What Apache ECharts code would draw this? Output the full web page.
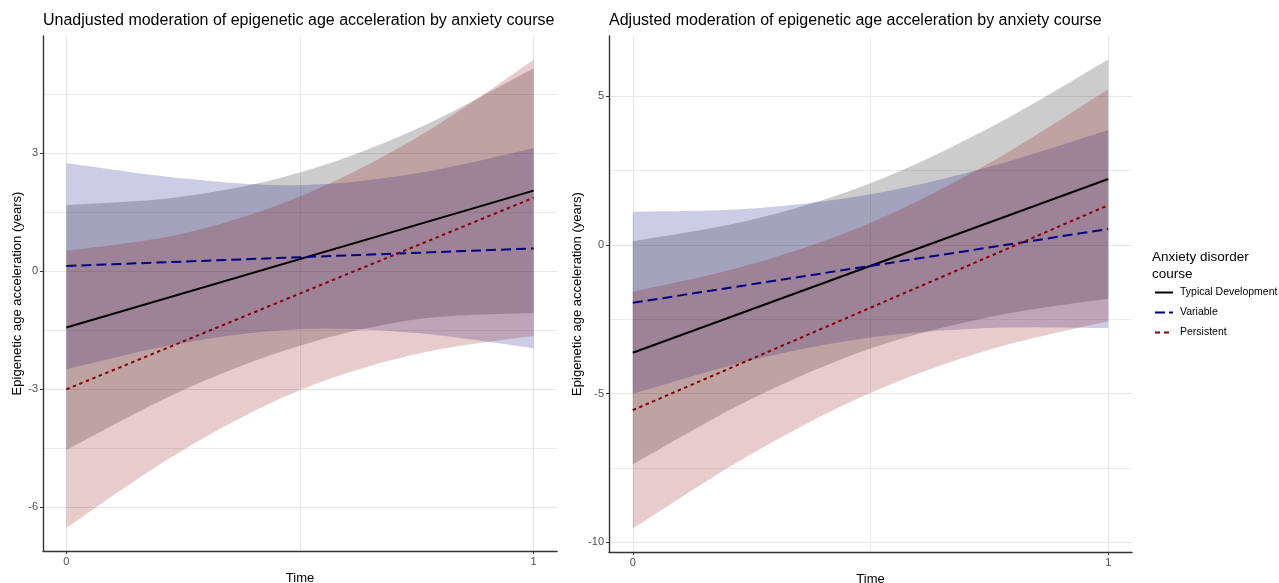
<!DOCTYPE html>
<html><head><meta charset="utf-8">
<script src="https://cdn.jsdelivr.net/npm/echarts@6/dist/echarts.min.js"></script>
<style>html,body{margin:0;padding:0;background:#fff}#c{width:1279px;height:583px}</style>
</head><body><div id="c"></div>
<script>
// ---- data ----
const times = [0, 0.25, 0.5, 0.75, 1];
const lineTimes = [0, 1];
const groupNames = ['Typical Development', 'Variable', 'Persistent'];
const xTicks = [0, 1];
const xMinorGrid = [0.5];

// Unadjusted panel
const uTypicalLine = [-1.43, 2.05];
const uVariableLine = [0.135, 0.58];
const uPersistentLine = [-3.0, 1.87];
const uTypicalLo = [-4.54, -3.02, -1.89, -1.22, -1.06];
const uTypicalHi = [1.68, 1.90, 2.51, 3.62, 5.16];
const uVariableLo = [-2.49, -1.82, -1.47, -1.57, -1.96];
const uVariableHi = [2.75, 2.36, 2.19, 2.49, 3.13];
const uPersistentLo = [-6.52, -4.54, -3.02, -2.10, -1.64];
const uPersistentHi = [0.52, 0.96, 1.90, 3.40, 5.37];
const uYTicks = [-6, -3, 0, 3];
const uYMinorGrid = [-4.5, -1.5, 1.5, 4.5];

// Adjusted panel
const aTypicalLine = [-3.63, 2.21];
const aVariableLine = [-1.95, 0.53];
const aPersistentLine = [-5.56, 1.33];
const aTypicalLo = [-7.38, -5.18, -3.49, -2.43, -1.81];
const aTypicalHi = [0.12, 0.84, 2.07, 3.93, 6.23];
const aVariableLo = [-5.01, -3.88, -3.12, -2.80, -2.80];
const aVariableHi = [1.11, 1.22, 1.70, 2.62, 3.86];
const aPersistentLo = [-9.54, -7.03, -4.98, -3.53, -2.57];
const aPersistentHi = [-1.58, -0.65, 0.74, 2.75, 5.23];
const aYTicks = [-10, -5, 0, 5];
const aYMinorGrid = [-7.5, -2.5, 2.5];

// ---- styles ----
const FONT = "'Liberation Sans', Arial, Helvetica, sans-serif";
const lineColors = ['#000000', '#000080', '#8B0000'];
const bandColors = ['rgba(0,0,0,0.2)', 'rgba(0,0,128,0.2)', 'rgba(139,0,0,0.2)'];
const dashTypes = ['solid', [10, 5], [3.5, 3.5]];
const legendIcons = [
  'path://M0,0h18v2h-18z',
  'path://M0,0h10v2h-10zM14,0h4v2h-4z',
  'path://M0,0h5v2h-5zM9,0h5v2h-5zM18,0h0.01v2h-0.01z'
];

function xAxes(grid) {
  return [{
    type: 'value', gridIndex: grid, min: -0.05, max: 1.05,
    name: 'Time', nameLocation: 'middle', nameGap: 19,
    nameTextStyle: { fontSize: 13, color: '#000', fontFamily: FONT },
    axisLine: { show: true, onZero: false, lineStyle: { color: '#333', width: 1.4 } },
    axisTick: { show: true, customValues: xTicks, length: 3, lineStyle: { color: '#333' } },
    axisLabel: { customValues: xTicks, color: '#4d4d4d', fontSize: 11, margin: 5, fontFamily: FONT },
    splitLine: { show: true, lineStyle: { color: '#e6e6e6', width: 1 } }
  }, {
    type: 'value', gridIndex: grid, min: -0.05, max: 1.05,
    axisLine: { show: false }, axisTick: { show: false, customValues: xMinorGrid },
    axisLabel: { show: false, customValues: xMinorGrid },
    splitLine: { show: true, lineStyle: { color: '#ebebeb', width: 1 } }
  }];
}
function yAxes(grid, min, max, ticks, minor, nameGap) {
  return [{
    type: 'value', gridIndex: grid, min: min, max: max,
    name: 'Epigenetic age acceleration (years)', nameLocation: 'middle', nameGap: nameGap,
    nameTextStyle: { fontSize: 13, color: '#000', fontFamily: FONT },
    axisLine: { show: true, onZero: false, lineStyle: { color: '#333', width: 1.4 } },
    axisTick: { show: true, customValues: ticks, length: 3, lineStyle: { color: '#333' } },
    axisLabel: { customValues: ticks, color: '#4d4d4d', fontSize: 11, margin: 5, fontFamily: FONT },
    splitLine: { show: true, lineStyle: { color: '#e6e6e6', width: 1 } }
  }, {
    type: 'value', gridIndex: grid, min: min, max: max,
    axisLine: { show: false }, axisTick: { show: false, customValues: minor },
    axisLabel: { show: false, customValues: minor },
    splitLine: { show: true, lineStyle: { color: '#ebebeb', width: 1 } }
  }];
}

// smooth pixel-space curve through the projected points (Catmull-Rom as cubic Bezier)
function smoothPath(P) {
  const out = [];
  const n = P.length, steps = 16;
  for (let i = 0; i < n - 1; i++) {
    const p0 = P[Math.max(i - 1, 0)], p1 = P[i], p2 = P[i + 1], p3 = P[Math.min(i + 2, n - 1)];
    const c1 = [p1[0] + (p2[0] - p0[0]) / 6, p1[1] + (p2[1] - p0[1]) / 6];
    const c2 = [p2[0] - (p3[0] - p1[0]) / 6, p2[1] - (p3[1] - p1[1]) / 6];
    for (let s = 0; s < steps; s++) {
      const u = s / steps, v = 1 - u;
      const a = v * v * v, b = 3 * v * v * u, c = 3 * v * u * u, d = u * u * u;
      out.push([a * p1[0] + b * c1[0] + c * c2[0] + d * p2[0], a * p1[1] + b * c1[1] + c * c2[1] + d * p2[1]]);
    }
  }
  out.push(P[n - 1]);
  return out;
}

function bandSeries(axisIdx, lo, hi, gi) {
  return {
    type: 'custom', xAxisIndex: axisIdx, yAxisIndex: axisIdx, silent: true, z: 2, clip: true,
    data: times.map((t, i) => [t, lo[i], hi[i]]),
    encode: { x: 0, y: [1, 2] },
    renderItem: function (params, api) {
      if (params.dataIndex !== 0) return null;
      const n = times.length;
      const up = [], dn = [];
      for (let j = 0; j < n; j++) {
        up.push(api.coord([api.value(0, j), api.value(2, j)]));
        dn.push(api.coord([api.value(0, j), api.value(1, j)]));
      }
      const pts = smoothPath(up).concat(smoothPath(dn).reverse());
      return { type: 'polygon', shape: { points: pts }, style: { fill: bandColors[gi] } };
    }
  };
}
function fitSeries(axisIdx, vals, gi) {
  return {
    type: 'line', name: groupNames[gi], xAxisIndex: axisIdx, yAxisIndex: axisIdx,
    symbol: 'none', z: 5, color: lineColors[gi],
    lineStyle: { color: lineColors[gi], width: 2, type: dashTypes[gi] },
    data: lineTimes.map((t, i) => [t, vals[i]])
  };
}

const series = [
  bandSeries(0, uTypicalLo, uTypicalHi, 0),
  bandSeries(0, uVariableLo, uVariableHi, 1),
  bandSeries(0, uPersistentLo, uPersistentHi, 2),
  bandSeries(2, aTypicalLo, aTypicalHi, 0),
  bandSeries(2, aVariableLo, aVariableHi, 1),
  bandSeries(2, aPersistentLo, aPersistentHi, 2),
  fitSeries(0, uTypicalLine, 0), fitSeries(0, uVariableLine, 1), fitSeries(0, uPersistentLine, 2),
  fitSeries(2, aTypicalLine, 0), fitSeries(2, aVariableLine, 1), fitSeries(2, aPersistentLine, 2)
];

const chart = echarts.init(document.getElementById('c'), null, { renderer: 'canvas' });
chart.setOption({
  animation: false,
  backgroundColor: '#fff',
  textStyle: { fontFamily: FONT },
  title: [
    { text: 'Unadjusted moderation of epigenetic age acceleration by anxiety course', left: 43, top: 13, padding: 0,
      textStyle: { fontSize: 16, fontWeight: 'normal', color: '#000', fontFamily: FONT } },
    { text: 'Adjusted moderation of epigenetic age acceleration by anxiety course', left: 609, top: 13, padding: 0,
      textStyle: { fontSize: 16, fontWeight: 'normal', color: '#000', fontFamily: FONT } },
    { text: 'Anxiety disorder\ncourse', left: 1152, top: 249, padding: 0,
      textStyle: { fontSize: 13.5, fontWeight: 'normal', color: '#000', lineHeight: 17, fontFamily: FONT } }
  ],
  legend: {
    data: groupNames.map((nm, i) => ({ name: nm, icon: legendIcons[i], itemStyle: { color: lineColors[i] } })),
    orient: 'vertical', left: 1155, top: 287, padding: 0,
    itemWidth: 18, itemHeight: 2.2, itemGap: 9,
    textStyle: { fontSize: 10.5, color: '#000', fontFamily: FONT, padding: [0, 0, 0, 2] }
  },
  grid: [
    { left: 43, top: 36, width: 514, height: 515, outerBoundsMode: 'none', containLabel: false },
    { left: 609, top: 36, width: 523, height: 516, outerBoundsMode: 'none', containLabel: false }
  ],
  xAxis: [].concat(xAxes(0), xAxes(1)),
  yAxis: [].concat(yAxes(0, -7.11, 5.98, uYTicks, uYMinorGrid, 17), yAxes(1, -10.33, 7.02, aYTicks, aYMinorGrid, 23)),
  series: series
});
</script></body></html>
